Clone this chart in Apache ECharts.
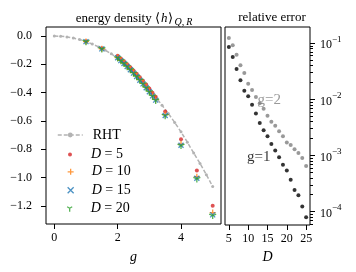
<!DOCTYPE html>
<html><head><meta charset="utf-8">
<script src="https://cdn.jsdelivr.net/npm/echarts@6/dist/echarts.min.js"></script>
<style>html,body{margin:0;padding:0;background:#fff}#c{width:356px;height:272px}</style>
</head><body><div id="c"></div>
<script>
// ---- data (left panel: energy density) ----
const gRHT = [0, 0.2, 0.4, 0.6, 0.8, 1.0, 1.2, 1.4, 1.6, 1.8, 2.0, 2.2, 2.4, 2.6, 2.8, 3.0, 3.2, 3.4, 3.6, 3.8, 4.0, 4.2, 4.4, 4.6, 4.8, 5.0];
const eRHT = [0, -0.0016, -0.0064, -0.0144, -0.0256, -0.040, -0.057, -0.077, -0.0995, -0.1255, -0.160, -0.196, -0.236, -0.280, -0.327, -0.378, -0.432, -0.489, -0.548, -0.610, -0.677, -0.750, -0.826, -0.900, -0.980, -1.063];
const gPts = [1.0, 1.5, 2.0, 2.1, 2.2, 2.3, 2.4, 2.5, 2.6, 2.7, 2.8, 2.9, 3.0, 3.1, 3.2, 3.5, 4.0, 4.5, 5.0];
const eD5  = [-0.037, -0.086, -0.140, -0.159, -0.178, -0.199, -0.220, -0.243, -0.267, -0.291, -0.316, -0.343, -0.371, -0.400, -0.429, -0.533, -0.729, -0.950, -1.198];
const eD10 = [-0.039, -0.090, -0.152, -0.172, -0.192, -0.213, -0.235, -0.259, -0.283, -0.308, -0.334, -0.361, -0.389, -0.418, -0.448, -0.555, -0.763, -0.993, -1.247];
const eD15 = [-0.040, -0.091, -0.154, -0.174, -0.194, -0.216, -0.238, -0.262, -0.286, -0.312, -0.338, -0.366, -0.394, -0.423, -0.453, -0.561, -0.771, -1.005, -1.263];
const eD20 = [-0.040, -0.091, -0.155, -0.175, -0.195, -0.217, -0.239, -0.263, -0.287, -0.313, -0.339, -0.367, -0.395, -0.425, -0.455, -0.563, -0.774, -1.009, -1.268];
// ---- data (right panel: relative error) ----
const Dvals = [5, 6, 7, 8, 9, 10, 11, 12, 13, 14, 15, 16, 17, 18, 19, 20, 21, 22, 23, 24, 25];
const errG2 = [0.124, 0.092, 0.0627, 0.0406, 0.0296, 0.019, 0.0147, 0.011, 0.0085, 0.0068, 0.0051, 0.0040, 0.0034, 0.0027, 0.0022, 0.0017, 0.00154, 0.00129, 0.00111, 0.0009, 0.00065];
const errG1 = [0.0859, 0.057, 0.0348, 0.0219, 0.0143, 0.0114, 0.0080, 0.0056, 0.0038, 0.0028, 0.0022, 0.0016, 0.00122, 0.00093, 0.00068, 0.00054, 0.000367, 0.000243, 0.000196, 0.000123, 0.0000794];
// ---- ticks / labels ----
const xTicksLeft = [0, 2, 4];
const yTicksLeft = [0, -0.2, -0.4, -0.6, -0.8, -1.0, -1.2];
const xTicksRight = [5, 10, 15, 20, 25];
const yTicksRight = [1e-4, 1e-3, 1e-2, 1e-1];
const seriesNames = ['RHT', 'D = 5', 'D = 10', 'D = 15', 'D = 20'];
const annotText = ['g=2', 'g=1'];
const annotPos = [[12.4, 0.0098], [9.7, 0.00095]];

const yMinorRight = [];
for (let k = -5; k <= -1; k++) for (let m = 2; m <= 9; m++) {
  const v = m * Math.pow(10, k);
  if (v > 5.75e-5 && v < 0.195) yMinorRight.push(v);
}

const FONT = 'Liberation Serif';
const PLUS = 'path://M0,5L10,5M5,0L5,10';
const XMK = 'path://M0,0L10,10M10,0L0,10';
const TRI = 'path://M5,-1M5,5L5,11M5,5L0.67,2.5M5,5L9.33,2.5';
const minus = s => s.replace('-', '\u2212');
const tickCol = '#000';
const RHTCOL = '#b3b3b3';

const chart = echarts.init(document.getElementById('c'), null, {renderer: 'canvas'});
const pairs = (xs, ys) => xs.map((x, i) => [x, ys[i]]);

function legendFor(name, centerY, left, w, h, spacer, itemStyle, lineStyle) {
  const l = {
    data: [name], left: left, top: centerY - h / 2, itemWidth: w, itemHeight: h,
    padding: 0, selectedMode: false, orient: 'vertical',
    formatter: n => '{sp|}' + n.replace('D', '{i|D}'),
    textStyle: {fontFamily: FONT, fontSize: 14, color: '#000',
      rich: {i: {fontFamily: FONT, fontSize: 14, fontStyle: 'italic', color: '#000'},
             sp: {width: spacer, fontSize: 14}}},
    itemStyle: itemStyle
  };
  if (lineStyle) l.lineStyle = lineStyle;
  return l;
}

const option = {
  animation: false,
  textStyle: {fontFamily: FONT},
  title: [
    {text: '{n|energy density \u27E8}{i|h}{n|\u27E9}{s|Q,\u2009R}', left: 129, top: 6, textAlign: 'center',
     textStyle: {fontFamily: FONT, fontSize: 13, fontWeight: 'normal', color: '#000',
       rich: {n: {fontFamily: FONT, fontSize: 13, color: '#000'},
              i: {fontFamily: FONT, fontSize: 13, fontStyle: 'italic', color: '#000', padding: [0, 1, 0, 1]},
              s: {fontFamily: FONT, fontSize: 10, fontStyle: 'italic', color: '#000', verticalAlign: 'bottom', padding: [6, 0, 0, 1]}}}},
    {text: 'relative error', left: 267, top: 6, textAlign: 'center',
     textStyle: {fontFamily: FONT, fontSize: 13, fontWeight: 'normal', color: '#000'}}
  ],
  grid: [
    {left: 46, top: 27, width: 175, height: 197, show: true, borderColor: '#000', borderWidth: 1, containLabel: false},
    {left: 225, top: 27, width: 85, height: 198, show: true, borderColor: '#000', borderWidth: 1, containLabel: false}
  ],
  xAxis: [
    {gridIndex: 0, type: 'value', min: -0.2625, max: 5.2625, splitLine: {show: false},
     axisLine: {show: false, onZero: false},
     axisTick: {show: true, length: 5, customValues: xTicksLeft, lineStyle: {color: tickCol}},
     axisLabel: {customValues: xTicksLeft, margin: 8, color: '#000', fontSize: 12, fontFamily: FONT},
     name: 'g', nameLocation: 'middle', nameGap: 26,
     nameTextStyle: {fontFamily: FONT, fontSize: 14, fontStyle: 'italic', color: '#000'}},
    {gridIndex: 1, type: 'value', min: 4, max: 26, splitLine: {show: false},
     axisLine: {show: false, onZero: false},
     axisTick: {show: true, length: 5, customValues: xTicksRight, lineStyle: {color: tickCol}},
     axisLabel: {customValues: xTicksRight, margin: 8, color: '#000', fontSize: 12, fontFamily: FONT},
     name: 'D', nameLocation: 'middle', nameGap: 24,
     nameTextStyle: {fontFamily: FONT, fontSize: 14, fontStyle: 'italic', color: '#000'}}
  ],
  yAxis: [
    {gridIndex: 0, type: 'value', position: 'left', min: -1.3275, max: 0.0635, splitLine: {show: false},
     axisLine: {show: false, onZero: false},
     axisTick: {show: true, length: 5, customValues: yTicksLeft, lineStyle: {color: tickCol}},
     axisLabel: {customValues: yTicksLeft, margin: 14, color: '#000', fontSize: 12, fontFamily: FONT,
       formatter: v => minus(Number(v).toFixed(1))}},
    {gridIndex: 1, type: 'log', logBase: 10, position: 'right', min: 5.75e-5, max: 0.195, splitLine: {show: false},
     axisLine: {show: false, onZero: false},
     axisTick: {show: true, length: 5, customValues: yTicksRight, lineStyle: {color: tickCol}},
     axisLabel: {customValues: yTicksRight, margin: 10, color: '#000', fontSize: 12, fontFamily: FONT,
       formatter: v => '{b|10}{s|' + minus(String(Math.round(Math.log10(v)))) + '}',
       rich: {b: {fontFamily: FONT, fontSize: 12, color: '#000', lineHeight: 16, verticalAlign: 'bottom'},
              s: {fontFamily: FONT, fontSize: 9, color: '#000', lineHeight: 16, verticalAlign: 'top'}}}},
    {gridIndex: 1, type: 'log', logBase: 10, position: 'right', min: 5.75e-5, max: 0.195, splitLine: {show: false},
     axisLine: {show: false, onZero: false},
     axisTick: {show: true, length: 3, customValues: yMinorRight, lineStyle: {color: tickCol}},
     axisLabel: {show: false}}
  ],
  legend: [
    legendFor(seriesNames[0], 131, 57, 25, 6, 5, {color: RHTCOL, borderWidth: 0}, {color: RHTCOL, width: 1.5, type: [4, 2]}),
    legendFor(seriesNames[1], 149.5, 68, 4, 4, 14, {color: '#d62728', borderWidth: 0}),
    legendFor(seriesNames[2], 167.8, 67, 6, 6, 13, {color: 'rgba(0,0,0,0)', borderColor: '#ff7f0e', borderWidth: 1.3}),
    legendFor(seriesNames[3], 186.2, 67, 6, 6, 13, {color: 'rgba(0,0,0,0)', borderColor: '#1f77b4', borderWidth: 1.3}),
    legendFor(seriesNames[4], 204.7, 66.5, 7, 7, 12.5, {color: 'rgba(0,0,0,0)', borderColor: '#2ca02c', borderWidth: 1.3})
  ],
  series: [
    {type: 'line', name: seriesNames[0], xAxisIndex: 0, yAxisIndex: 0, data: pairs(gRHT, eRHT),
     lineStyle: {color: RHTCOL, width: 1.5, type: [4, 2]}, symbol: 'circle', symbolSize: 3,
     showSymbol: true, showAllSymbol: true, itemStyle: {color: RHTCOL}, z: 1},
    {type: 'scatter', name: seriesNames[1], xAxisIndex: 0, yAxisIndex: 0, data: pairs(gPts, eD5),
     symbol: 'circle', symbolSize: 4, itemStyle: {color: '#d62728'}, z: 2},
    {type: 'scatter', name: seriesNames[2], xAxisIndex: 0, yAxisIndex: 0, data: pairs(gPts, eD10),
     symbol: PLUS, symbolSize: 6, itemStyle: {color: 'rgba(0,0,0,0)', borderColor: '#ff7f0e', borderWidth: 1.3}, z: 3},
    {type: 'scatter', name: seriesNames[3], xAxisIndex: 0, yAxisIndex: 0, data: pairs(gPts, eD15),
     symbol: XMK, symbolSize: 5, itemStyle: {color: 'rgba(0,0,0,0)', borderColor: '#1f77b4', borderWidth: 1.3}, z: 4},
    {type: 'scatter', name: seriesNames[4], xAxisIndex: 0, yAxisIndex: 0, data: pairs(gPts, eD20),
     symbol: TRI, symbolSize: 7, itemStyle: {color: 'rgba(0,0,0,0)', borderColor: '#2ca02c', borderWidth: 1.3}, z: 5},
    {type: 'scatter', name: 'g=2', xAxisIndex: 1, yAxisIndex: 1, data: pairs(Dvals, errG2),
     symbol: 'circle', symbolSize: 4, itemStyle: {color: '#808080'}},
    {type: 'scatter', name: 'g=1', xAxisIndex: 1, yAxisIndex: 1, data: pairs(Dvals, errG1),
     symbol: 'circle', symbolSize: 4, itemStyle: {color: '#000'}},
    {type: 'scatter', name: 'annot', xAxisIndex: 1, yAxisIndex: 1, silent: true, symbolSize: 0, z: 10,
     data: annotPos.map((p, i) => ({value: p, label: {show: true, position: 'right', distance: 0,
       fontFamily: FONT, fontSize: 15, color: i === 0 ? '#808080' : '#000', formatter: annotText[i]}})),
     label: {show: true, position: 'right', distance: 0, fontFamily: FONT, fontSize: 15}}
  ]
};
chart.setOption(option);
</script>
</body></html>
